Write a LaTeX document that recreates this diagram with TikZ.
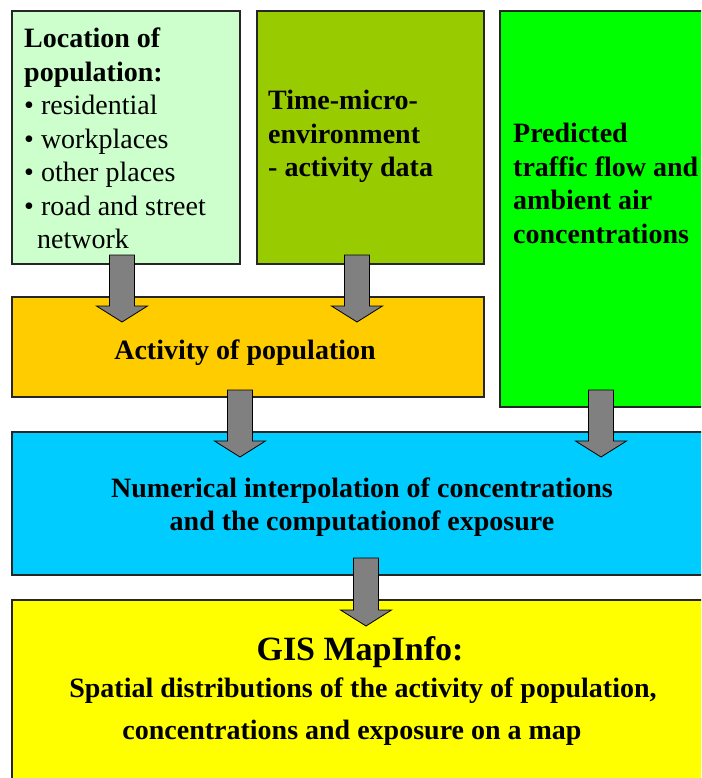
\documentclass[tikz,border=0pt]{standalone}
\usepackage{fontspec}
\setmainfont{Liberation Serif}
\begin{document}
\begin{tikzpicture}[x=1pt,y=-1pt]
\definecolor{cloc}{HTML}{CCFFCC}
\definecolor{ctime}{HTML}{99CC00}
\definecolor{cpred}{HTML}{00FF00}
\definecolor{cact}{HTML}{FFCC00}
\definecolor{cnum}{HTML}{00CCFF}
\definecolor{cgis}{HTML}{FFFF00}
\definecolor{carrow}{HTML}{808080}
\tikzset{
  box/.style={draw=black!85, line width=1.2pt, anchor=north west, inner sep=0pt, outer sep=0pt},
  lbl/.style={inner sep=0pt, font=\fontsize{28}{33.5}\selectfont\bfseries},
  blk/.style={fill=carrow, draw=black, line width=0.8pt, line join=miter},
}
\newcommand{\blockarrow}[3]{%
  \draw[blk] (#1-12.5,#2) -- (#1+12.5,#2) -- (#1+12.5,#3-16) -- (#1+25.5,#3-16)
    -- (#1,#3) -- (#1-25.5,#3-16) -- (#1-12.5,#3-16) -- cycle;}
\useasboundingbox (0,0) rectangle (701,778);
\clip (0,0) rectangle (701,778);
% boxes
\node[box, fill=cloc,  minimum width=228, minimum height=253] (loc)  at (12,11) {};
\node[box, fill=ctime, minimum width=227, minimum height=253] (time) at (257,11) {};
\node[box, fill=cpred, minimum width=204, minimum height=396] (pred) at (500,11) {};
\node[box, fill=cact,  minimum width=472, minimum height=100] (act)  at (12,297) {};
\node[box, fill=cnum,  minimum width=694, minimum height=143] (num)  at (12,432) {};
\node[box, fill=cgis,  minimum width=694, minimum height=190] (gis)  at (12,600) {};
% texts
\node[lbl, anchor=north west, align=left] (loctxt) at (24,28)
  {Location of\\population:\\
   \mdseries\textbullet\ residential\\
   \mdseries\textbullet\ workplaces\\
   \mdseries\textbullet\ other places\\
   \mdseries\textbullet\ road and street\\
   \mdseries\hspace*{13pt}network};
\node[lbl, anchor=north west, align=left] (timetxt) at (268,90)
  {Time-micro-\\environment\\- activity data};
\node[lbl, anchor=north west, align=left] (predtxt) at (513,123)
  {Predicted\\traffic flow and\\ambient air\\concentrations};
\node[lbl] (acttxt) at (245,353) {Activity of population};
\node[lbl, align=center] (numtxt) at (362,507)
  {Numerical interpolation of concentrations\\and the computationof exposure};
\node[lbl, font=\fontsize{34}{40}\selectfont\bfseries] (gistxt) at (360,652) {GIS MapInfo:};
\node[lbl] (gis2) at (363,691) {Spatial distributions of the activity of population,};
\node[lbl] (gis3) at (352,733) {concentrations and exposure on a map};
% arrows
\blockarrow{122}{255}{322}
\blockarrow{357}{255}{322}
\blockarrow{240}{390}{457}
\blockarrow{601}{390}{457}
\blockarrow{366}{558}{626}
\end{tikzpicture}
\end{document}
